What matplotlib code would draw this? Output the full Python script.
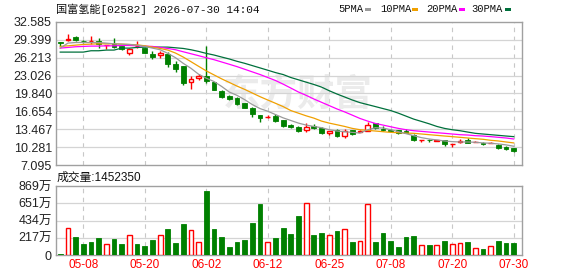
import matplotlib
matplotlib.use('Agg')
import matplotlib.pyplot as plt
from matplotlib.patches import Rectangle

# ---------------- data ----------------
dates = ['05-05', '05-06', '05-07', '05-08', '05-11', '05-12', '05-13', '05-14', '05-15', '05-18',
         '05-19', '05-20', '05-21', '05-22', '05-26', '05-27', '05-28', '05-29', '06-01', '06-02',
         '06-03', '06-04', '06-05', '06-08', '06-09', '06-10', '06-11', '06-12', '06-15', '06-16',
         '06-17', '06-18', '06-22', '06-23', '06-24', '06-25', '06-26', '06-29', '06-30', '07-02',
         '07-03', '07-06', '07-07', '07-08', '07-09', '07-10', '07-13', '07-14', '07-15', '07-16',
         '07-17', '07-20', '07-21', '07-22', '07-23', '07-24', '07-27', '07-28', '07-29', '07-30']

opens = [28.99, 29.40, 29.88, 29.25, 29.15, 29.17, 28.40, 28.64, 28.23, 27.05,
         28.35, 27.93, 26.87, 26.70, 26.87, 25.16, 24.69, 21.93, 22.63, 22.93,
         21.86, 20.27, 19.39, 19.10, 18.16, 17.33, 15.98, 15.60, 15.86, 15.09,
         14.27, 13.91, 13.38, 14.03, 13.62, 12.74, 13.38, 12.32, 13.27, 12.97,
         13.21, 14.56, 13.45, 13.38, 13.35, 13.09, 12.50, 11.50, 11.52, 11.40,
         11.56, 10.79, 11.26, 11.56, 11.22, 11.09, 11.00, 10.73, 10.38, 10.14]
highs = [29.05, 30.46, 30.11, 29.40, 30.11, 29.76, 28.55, 29.70, 28.34, 27.90,
         29.23, 27.99, 27.46, 27.40, 27.23, 25.64, 24.80, 22.93, 23.34, 28.23,
         21.95, 20.45, 19.63, 19.15, 18.20, 17.40, 16.02, 15.95, 16.10, 15.20,
         14.45, 14.00, 14.50, 14.33, 13.80, 13.20, 13.56, 13.50, 13.35, 13.38,
         14.68, 14.62, 13.97, 13.44, 13.40, 13.60, 12.56, 11.56, 11.73, 11.55,
         11.60, 10.90, 11.67, 11.97, 11.35, 11.15, 11.12, 10.80, 10.45, 10.20]
lows = [28.35, 29.17, 29.17, 28.90, 28.70, 27.99, 27.80, 27.93, 27.52, 26.64,
        27.93, 27.00, 25.93, 26.22, 24.52, 23.75, 21.28, 20.63, 22.28, 21.80,
        20.40, 19.10, 18.60, 17.85, 17.20, 15.74, 14.80, 15.45, 14.80, 13.90,
        13.62, 12.95, 13.03, 13.44, 12.62, 12.38, 12.03, 11.97, 12.50, 12.91,
        13.09, 13.56, 13.20, 13.03, 12.70, 12.79, 11.45, 11.15, 11.26, 11.30,
        10.56, 10.38, 10.97, 11.05, 11.15, 10.70, 10.95, 10.03, 9.80, 9.44]
closes = [28.76, 29.64, 29.40, 29.20, 29.15, 28.70, 28.50, 28.11, 27.76, 27.76,
          28.35, 27.05, 26.34, 26.99, 25.16, 24.28, 21.75, 22.51, 22.99, 22.04,
          20.51, 19.22, 18.86, 17.92, 17.27, 16.27, 15.50, 15.60, 14.98, 14.09,
          13.91, 13.15, 13.91, 13.68, 12.74, 13.15, 12.21, 13.09, 12.56, 13.09,
          14.21, 13.62, 13.27, 13.09, 12.74, 12.85, 11.50, 11.50, 11.48, 11.47,
          10.79, 10.88, 11.44, 11.09, 11.28, 10.79, 11.05, 10.20, 9.97, 9.67]

# volume in units of 10k shares (万)
volumes = [12, 336, 227, 138, 164, 214, 134, 201, 138, 248,
           138, 113, 189, 248, 327, 151, 390, 315, 159, 805,
           327, 227, 101, 164, 189, 403, 642, 159, 214, 340,
           264, 491, 650, 252, 277, 248, 302, 323, 164, 180,
           638, 164, 277, 176, 101, 227, 239, 126, 126, 126,
           176, 138, 151, 164, 88, 76, 113, 176, 151, 145.235]
vol_up = [0, 1, 0, 0, 0, 0, 1, 0, 0, 1,
          0, 0, 0, 1, 0, 0, 0, 1, 1, 0,
          0, 0, 0, 0, 0, 0, 0, 1, 0, 0,
          0, 0, 1, 0, 0, 1, 0, 1, 0, 1,
          1, 0, 0, 0, 0, 0, 0, 1, 0, 1,
          0, 1, 1, 0, 1, 0, 1, 0, 0, 0]

ma5 = [27.93, 28.82, 28.93, 28.93, 28.93, 28.93, 28.82, 28.70, 28.64, 28.58,
       28.46, 28.23, 27.93, 27.64, 26.99, 26.22, 25.22, 24.34, 23.28, 22.57,
       21.98, 21.10, 20.10, 19.51, 18.74, 17.86, 17.15, 16.68, 16.09, 15.50,
       15.03, 14.56, 14.21, 13.97, 13.74, 13.38, 13.15, 13.03, 12.91, 12.79,
       13.38, 13.74, 13.68, 13.38, 13.03, 12.68, 12.32, 11.97, 11.73, 11.56,
       11.38, 11.26, 11.20, 11.20, 11.15, 11.03, 10.97, 10.85, 10.68, 10.44]
ma10 = [28.23, 28.34, 28.46, 28.58, 28.64, 28.70, 28.70, 28.70, 28.64, 28.58,
        28.52, 28.34, 28.11, 27.87, 27.58, 27.05, 26.34, 25.52, 24.69, 23.87,
        23.16, 22.45, 21.81, 21.16, 20.57, 19.92, 19.27, 18.68, 18.10, 17.51,
        16.80, 16.33, 15.86, 15.45, 14.92, 14.56, 14.27, 13.97, 13.62, 13.38,
        13.27, 13.15, 13.03, 12.91, 12.85, 12.79, 12.74, 12.62, 12.50, 12.38,
        12.26, 12.15, 12.03, 11.91, 11.79, 11.68, 11.50, 11.38, 11.20, 11.03]
ma20 = [27.93, 28.05, 28.17, 28.23, 28.29, 28.29, 28.34, 28.34, 28.40, 28.40,
        28.34, 28.29, 28.23, 28.05, 27.87, 27.64, 27.28, 26.93, 26.58, 26.22,
        25.87, 25.46, 25.05, 24.63, 24.16, 23.69, 23.22, 22.69, 22.16, 21.51,
        20.81, 20.10, 19.51, 18.86, 18.27, 17.68, 17.09, 16.56, 15.98, 15.39,
        14.92, 14.50, 14.21, 13.91, 13.62, 13.38, 13.21, 13.09, 12.97, 12.85,
        12.74, 12.62, 12.50, 12.44, 12.32, 12.26, 12.15, 12.03, 11.91, 11.73]
ma30 = [27.22, 27.22, 27.22, 27.22, 27.46, 27.46, 27.58, 27.58, 27.93, 27.93,
        28.05, 28.11, 28.11, 28.11, 28.11, 27.99, 27.87, 27.64, 27.34, 26.99,
        26.70, 26.34, 25.99, 25.58, 25.22, 24.81, 24.40, 23.99, 23.57, 23.22,
        22.69, 22.28, 21.86, 21.45, 20.98, 20.33, 19.75, 19.22, 18.68, 18.21,
        17.86, 17.51, 17.15, 16.80, 16.33, 15.80, 15.27, 14.86, 14.44, 13.97,
        13.62, 13.38, 13.21, 12.97, 12.74, 12.62, 12.50, 12.38, 12.26, 12.15]

price_ticks = [7.095, 10.281, 13.467, 16.654, 19.840, 23.026, 26.213, 29.399, 32.585]
price_tick_labels = ['7.095', '10.281', '13.467', '16.654', '19.840', '23.026', '26.213', '29.399', '32.585']
vol_ticks = [0, 217, 434, 651, 869]
vol_tick_labels = ['0', '217万', '434万', '651万', '869万']
ma_names = ['5PMA', '10PMA', '20PMA', '30PMA']
title_text = '国富氢能[02582] 2026-07-30 14:04'
vol_title = '成交量:1452350'

# ---------------- style ----------------
RED = '#ff0000'
GREEN = '#008000'
ma_colors = ['#9a9a9a', '#f0a000', '#ff00ff', '#00703c']
GRID = '#d4d4d4'
FRAME = '#a0a0a0'
SANS = ['Liberation Sans', 'Noto Sans CJK SC', 'DejaVu Sans']
MONO = ['Liberation Mono', 'Noto Sans CJK SC', 'DejaVu Sans']

W, H = 578, 276
fig = plt.figure(figsize=(W / 100, H / 100), dpi=100)
fig.patch.set_facecolor('white')


def rect(l, t, r, b):
    return [l / W, 1 - b / H, (r - l) / W, (b - t) / H]


ax = fig.add_axes(rect(56, 22, 522, 165))
axv = fig.add_axes(rect(56, 186, 522, 255), sharex=ax)

n = len(closes)
xs = list(range(n))
tick_pos = list(range(3, n, 8))
tick_lab = [dates[i] for i in tick_pos]

for a in (ax, axv):
    for s in a.spines.values():
        s.set_color(FRAME)
        s.set_linewidth(1.0)
    a.set_xlim(-0.55, 60.08)
    a.set_xticks(tick_pos)
    a.tick_params(length=0)
    for p in tick_pos:
        a.axvline(p, color='#c8c8c8', lw=0.8, ls=(0, (4, 4)), zorder=0)

# watermark
ax.text(0.52, 0.48, '东方财富', transform=ax.transAxes, ha='center', va='center',
        fontsize=27, fontweight='bold', color='#ebebeb', family=SANS, zorder=0)

# price axis
ax.set_ylim(price_ticks[0], price_ticks[-1])
ax.set_yticks(price_ticks)
ax.set_yticklabels(price_tick_labels, family=SANS, fontsize=9, color='#222222')
ax.tick_params(axis='y', pad=3)
ax.tick_params(axis='x', labelbottom=False)
for t in price_ticks[1:-1]:
    ax.axhline(t, color=GRID, lw=0.9, zorder=0)

bw = 0.62
for i in xs:
    o, h, l, c = opens[i], highs[i], lows[i], closes[i]
    up = c >= o
    col = RED if up else GREEN
    ax.vlines(i, l, h, color=col, lw=1.0, zorder=2)
    bottom = min(o, c)
    height = max(abs(c - o), 0.03)
    if up:
        ax.bar(i, height, bottom=bottom, width=bw, facecolor='white', edgecolor=col,
               lw=1.0, zorder=3)
    else:
        ax.bar(i, height, bottom=bottom, width=bw, facecolor=col, edgecolor=col,
               lw=0.6, zorder=3)

for vals, col in zip([ma30, ma20, ma10, ma5], ma_colors[::-1]):
    ax.plot(xs, vals, color=col, lw=0.9, zorder=4)

# volume axis
axv.set_ylim(0, vol_ticks[-1])
axv.set_yticks(vol_ticks)
axv.set_yticklabels(vol_tick_labels, family=SANS, fontsize=9, color='#222222')
axv.tick_params(axis='y', pad=3)
axv.set_xticklabels(tick_lab, family=['Liberation Sans Narrow', 'Liberation Sans'],
                    fontsize=8.5, color=RED)
axv.tick_params(axis='x', pad=3)
for t in vol_ticks[1:-1]:
    axv.axhline(t, color=GRID, lw=0.9, zorder=0)
for i in xs:
    if vol_up[i]:
        axv.bar(i, volumes[i], width=bw, facecolor='white', edgecolor=RED, lw=1.0, zorder=3)
    else:
        axv.bar(i, volumes[i], width=bw, facecolor=GREEN, edgecolor=GREEN, lw=0.6, zorder=3)

# texts
fig.text(56 / W, 1 - 9 / H, title_text, family=MONO, fontsize=8, color='#111111',
         ha='left', va='center')
fig.text(57 / W, 1 - 178 / H, vol_title, family=SANS, fontsize=8.5, color='#111111',
         ha='left', va='center')

leg_x = [338, 380, 426, 471]
mk_x = [365, 412, 459, 505]
for name, lx, mx, col in zip(ma_names, leg_x, mk_x, ma_colors):
    fig.text(lx / W, 1 - 9 / H, name, family=MONO, fontsize=7.6, color='#111111',
             ha='left', va='center')
    fig.patches.append(Rectangle((mx / W, 1 - 11 / H), 6 / W, 3 / H,
                                 transform=fig.transFigure, facecolor=col,
                                 edgecolor='none'))

fig.savefig('out.png', dpi=100, facecolor='white')
